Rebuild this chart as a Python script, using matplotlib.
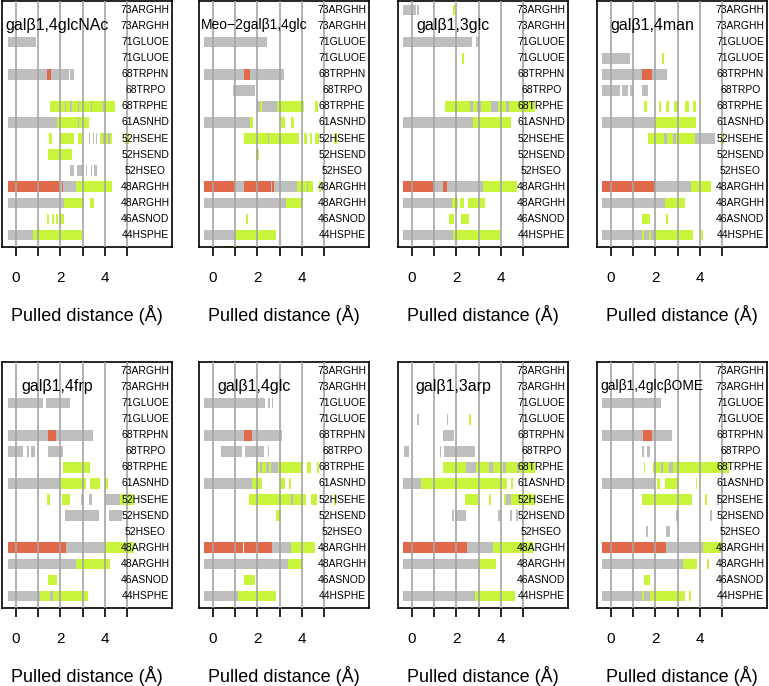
import matplotlib.pyplot as plt

plt.rcParams['font.family'] = ['Liberation Sans', 'DejaVu Sans']

# residue rows, top to bottom (last row is cut off by the frame)
rows = ["73ARGHH", "73ARGHH", "71GLUOE", "71GLUOE", "68TRPHN", "68TRPO",
        "68TRPHE", "61ASNHD", "52HSEHE", "52HSEND", "52HSEO", "48ARGHH",
        "48ARGHH", "46ASNOD", "44HSPHE", ""]

titles = ["galβ1,4glcNAc", "Meo\u22122galβ1,4glc", "galβ1,3glc", "galβ1,4man",
          "galβ1,4frp", "galβ1,4glc", "galβ1,3arp", "galβ1,4glcβOME"]

# segments: (row index from top, start, end, kind)  g=gray r=red y=yellow-green
seg_glcnac = [
    (2, -0.37, 0.9, 'g'),
    (4, -0.37, 2.37, 'g'), (4, 1.39, 1.57, 'r'), (4, 2.44, 2.62, 'g'),
    (6, 1.54, 4.43, 'y'), (6, 2.2, 2.27, 'g'), (6, 2.45, 2.5, 'g'), (6, 2.8, 2.84, 'g'),
    (6, 3.35, 3.4, 'g'), (6, 3.9, 3.95, 'g'),
    (7, -0.37, 1.84, 'g'), (7, 1.84, 3.27, 'y'), (7, 2.8, 2.84, 'g'),
    (8, 1.47, 1.62, 'y'), (8, 1.96, 2.59, 'y'), (8, 2.77, 2.97, 'y'), (8, 3.3, 3.34, 'g'),
    (8, 3.45, 3.49, 'g'), (8, 3.6, 3.64, 'g'), (8, 3.79, 4.31, 'y'), (8, 3.9, 3.95, 'g'),
    (8, 4.15, 4.2, 'g'), (8, 4.9, 5.06, 'y'),
    (9, 1.42, 2.52, 'y'),
    (10, 2.44, 2.6, 'g'), (10, 2.75, 3.0, 'g'), (10, 3.15, 3.2, 'g'), (10, 3.35, 3.4, 'g'),
    (10, 3.5, 3.64, 'g'),
    (11, -0.37, 1.99, 'r'), (11, 1.99, 2.71, 'g'), (11, 2.05, 2.1, 'r'), (11, 2.71, 4.31, 'y'),
    (12, -0.37, 2.14, 'g'), (12, 2.14, 3.04, 'y'), (12, 3.31, 3.49, 'y'),
    (13, 1.39, 1.5, 'y'), (13, 1.6, 1.7, 'y'), (13, 1.8, 1.9, 'y'), (13, 2.0, 2.14, 'y'),
    (14, -0.37, 0.79, 'g'), (14, 0.79, 2.97, 'y'),
    (15, -0.37, 0.22, 'y'),
]

seg_meo = [
    (2, -0.39, 2.41, 'g'),
    (4, -0.39, 3.19, 'g'), (4, 1.41, 1.65, 'r'),
    (5, 0.9, 1.88, 'g'),
    (6, 1.98, 2.89, 'g'), (6, 2.1, 2.2, 'y'), (6, 2.89, 4.09, 'y'), (6, 4.57, 4.72, 'y'),
    (7, -0.39, 1.68, 'g'), (7, 1.68, 1.8, 'y'), (7, 3.04, 3.23, 'y'), (7, 3.49, 3.64, 'y'),
    (8, 1.41, 3.86, 'y'), (8, 2.49, 2.54, 'g'), (8, 4.09, 4.2, 'y'), (8, 4.35, 4.45, 'y'),
    (8, 4.6, 4.77, 'y'), (8, 5.44, 5.56, 'y'),
    (9, 1.95, 2.08, 'y'),
    (11, -0.39, 0.98, 'r'), (11, 0.98, 1.41, 'g'), (11, 1.41, 2.74, 'r'), (11, 2.6, 2.64, 'g'),
    (11, 2.74, 3.79, 'g'), (11, 3.79, 4.47, 'y'), (11, 4.2, 4.25, 'g'), (11, 4.77, 4.84, 'y'),
    (12, -0.39, 3.26, 'g'), (12, 3.26, 4.02, 'y'),
    (13, 1.5, 1.59, 'y'),
    (14, -0.39, 1.0, 'g'), (14, 1.0, 2.81, 'y'),
    (15, 0.45, 1.16, 'y'),
]

seg_13glc = [
    (0, -0.39, 0.18, 'g'), (0, 0.21, 0.3, 'g'), (0, 1.86, 1.95, 'y'),
    (2, -0.39, 2.70, 'g'), (2, 2.88, 3.0, 'g'),
    (3, 2.25, 2.34, 'y'),
    (6, 1.5, 5.5, 'y'), (6, 2.6, 2.75, 'g'), (6, 2.9, 3.1, 'g'), (6, 3.55, 3.85, 'g'),
    (6, 4.2, 4.35, 'g'),
    (7, -0.39, 2.73, 'g'), (7, 2.73, 4.45, 'y'),
    (11, -0.39, 0.96, 'r'), (11, 0.96, 1.41, 'g'), (11, 1.41, 1.56, 'r'), (11, 1.56, 3.21, 'g'),
    (11, 3.21, 4.72, 'y'),
    (12, -0.39, 1.8, 'g'), (12, 1.8, 2.05, 'y'), (12, 2.15, 2.35, 'y'), (12, 2.5, 3.3, 'y'),
    (13, 1.65, 1.9, 'y'), (13, 2.2, 2.58, 'y'),
    (14, -0.39, 1.83, 'g'), (14, 1.83, 3.93, 'y'),
]

seg_man = [
    (3, -0.41, 0.86, 'g'), (3, 2.31, 2.38, 'y'),
    (4, -0.41, 2.54, 'g'), (4, 1.4, 1.86, 'r'),
    (5, -0.41, 0.41, 'g'), (5, 0.48, 0.75, 'g'), (5, 0.86, 0.98, 'g'), (5, 1.4, 1.66, 'g'),
    (6, 1.48, 1.63, 'y'), (6, 2.14, 2.26, 'y'), (6, 2.49, 2.6, 'y'), (6, 2.84, 3.02, 'y'),
    (6, 3.32, 3.5, 'y'), (6, 3.7, 3.8, 'y'),
    (7, -0.41, 1.93, 'g'), (7, 1.93, 3.82, 'y'),
    (8, 1.66, 3.77, 'y'), (8, 2.4, 2.5, 'g'), (8, 2.8, 2.9, 'g'), (8, 3.77, 4.68, 'g'),
    (8, 4.95, 5.07, 'y'),
    (11, -0.41, 2.0, 'r'), (11, 2.0, 3.59, 'g'), (11, 3.59, 4.5, 'y'),
    (12, -0.41, 2.42, 'g'), (12, 2.42, 3.32, 'y'),
    (13, 1.4, 1.74, 'y'), (13, 2.49, 2.57, 'y'),
    (14, -0.41, 1.96, 'g'), (14, 1.4, 1.5, 'y'), (14, 1.7, 1.8, 'y'), (14, 1.96, 3.7, 'y'),
    (14, 4.05, 4.11, 'y'),
    (15, -0.41, 0.18, 'y'),
]

seg_frp = [
    (2, -0.37, 1.24, 'g'), (2, 1.36, 2.44, 'g'),
    (4, -0.37, 3.46, 'g'), (4, 1.42, 1.81, 'r'),
    (5, -0.37, 0.31, 'g'), (5, 0.49, 0.6, 'g'), (5, 0.7, 0.87, 'g'), (5, 1.42, 2.11, 'g'),
    (6, 2.11, 3.34, 'y'),
    (7, -0.37, 1.96, 'g'), (7, 1.96, 3.16, 'y'), (7, 3.34, 3.79, 'y'), (7, 4.01, 4.12, 'y'),
    (8, 1.39, 1.54, 'y'), (8, 2.07, 2.44, 'y'), (8, 2.94, 3.0, 'g'), (8, 3.3, 3.42, 'g'),
    (8, 4.01, 4.69, 'g'), (8, 4.69, 5.29, 'y'),
    (9, 2.19, 3.75, 'g'), (9, 4.16, 4.76, 'g'),
    (11, -0.37, 2.25, 'r'), (11, 2.25, 3.94, 'g'), (11, 3.94, 5.29, 'y'),
    (12, -0.37, 2.71, 'g'), (12, 2.71, 4.24, 'y'),
    (13, 1.44, 1.84, 'y'),
    (14, -0.37, 1.09, 'g'), (14, 1.09, 3.22, 'y'), (14, 1.55, 1.67, 'g'),
    (15, -0.37, 0.34, 'y'),
]

seg_14glc = [
    (2, -0.39, 2.36, 'g'), (2, 2.47, 2.55, 'g'), (2, 2.63, 2.71, 'g'),
    (4, -0.39, 3.08, 'g'), (4, 1.41, 1.77, 'r'),
    (5, 0.36, 1.31, 'g'), (5, 1.43, 2.29, 'g'), (5, 2.48, 2.53, 'g'),
    (6, 1.95, 4.02, 'y'), (6, 2.1, 2.2, 'g'), (6, 2.4, 2.5, 'g'), (6, 2.6, 2.9, 'g'),
    (6, 4.24, 4.39, 'y'), (6, 4.69, 4.77, 'y'),
    (7, -0.39, 1.77, 'g'), (7, 1.77, 2.21, 'y'), (7, 3.0, 3.22, 'y'), (7, 3.41, 3.49, 'y'),
    (8, 1.61, 4.17, 'y'), (8, 3.5, 3.6, 'g'), (8, 4.39, 4.66, 'y'), (8, 5.41, 5.52, 'y'),
    (9, 2.83, 3.07, 'y'),
    (11, -0.39, 1.35, 'r'), (11, 1.41, 2.66, 'r'), (11, 2.66, 3.52, 'g'), (11, 3.52, 4.57, 'y'),
    (12, -0.39, 3.37, 'g'), (12, 3.37, 4.03, 'y'),
    (13, 1.41, 1.88, 'y'),
    (14, -0.39, 1.13, 'g'), (14, 1.13, 2.81, 'y'),
    (15, 0.33, 1.0, 'y'),
]

seg_arp = [
    (3, 0.25, 0.3, 'g'), (3, 1.57, 1.62, 'g'), (3, 2.58, 2.65, 'y'),
    (4, 0.93, 0.97, 'g'), (4, 1.41, 1.87, 'g'),
    (5, -0.34, -0.12, 'g'), (5, 1.26, 1.3, 'g'), (5, 1.42, 2.85, 'g'), (5, 2.98, 3.02, 'g'),
    (6, 1.41, 5.5, 'y'), (6, 2.43, 2.88, 'g'), (6, 3.48, 3.63, 'g'), (6, 4.07, 4.22, 'g'),
    (6, 4.7, 4.8, 'g'),
    (7, -0.39, 0.4, 'g'), (7, 0.4, 4.25, 'y'), (7, 4.45, 4.55, 'y'),
    (8, 2.4, 2.95, 'y'), (8, 3.45, 3.55, 'y'), (8, 4.15, 5.5, 'y'), (8, 4.22, 4.45, 'g'),
    (9, 1.8, 1.87, 'g'), (9, 1.95, 2.43, 'g'), (9, 3.85, 4.0, 'g'), (9, 4.4, 4.49, 'g'),
    (9, 4.67, 4.75, 'g'),
    (11, -0.39, 2.46, 'r'), (11, 2.46, 3.63, 'g'), (11, 3.63, 5.42, 'y'),
    (12, -0.39, 2.95, 'g'), (12, 2.95, 3.78, 'y'),
    (14, -0.39, 2.85, 'g'), (14, 2.85, 4.64, 'y'),
]

seg_ome = [
    (2, -0.41, 2.26, 'g'),
    (4, -0.41, 2.75, 'g'), (4, 1.43, 1.86, 'r'),
    (5, 1.39, 1.5, 'g'), (5, 1.6, 1.74, 'g'),
    (6, 1.48, 1.54, 'y'), (6, 1.89, 3.17, 'y'), (6, 2.25, 2.35, 'g'), (6, 2.6, 2.8, 'g'),
    (6, 3.17, 5.28, 'y'),
    (7, -0.41, 1.99, 'g'), (7, 2.08, 2.19, 'y'), (7, 2.42, 3.05, 'y'), (7, 3.8, 3.88, 'y'),
    (8, 1.39, 3.62, 'y'), (8, 4.23, 4.32, 'y'), (8, 4.75, 4.83, 'g'),
    (9, 2.91, 2.99, 'g'), (9, 4.45, 4.53, 'g'),
    (10, 1.58, 1.66, 'g'), (10, 2.49, 2.64, 'g'),
    (11, -0.41, 2.46, 'r'), (11, 2.46, 4.15, 'g'), (11, 4.15, 4.98, 'y'),
    (12, -0.41, 3.25, 'g'), (12, 3.25, 3.85, 'y'), (12, 4.3, 4.38, 'y'),
    (13, 1.48, 1.75, 'y'),
    (14, -0.41, 1.74, 'g'), (14, 1.4, 1.5, 'y'), (14, 1.74, 3.32, 'y'), (14, 3.52, 3.58, 'y'),
    (15, 0.38, 0.45, 'y'),
]

panels = [seg_glcnac, seg_meo, seg_13glc, seg_man, seg_frp, seg_14glc, seg_arp, seg_ome]
title_sizes = [11.5, 10, 11.5, 11.5, 11.5, 11.5, 11.5, 10]

colors = {'g': '#BEBEBE', 'r': '#E0694A', 'y': '#C8F53C'}

fig = plt.figure(figsize=(7.69, 6.86), dpi=100)
lefts = [2 / 769, 199 / 769, 398 / 769, 597 / 769]
bottoms = [1 - 247 / 686, 1 - 608 / 686]
w, h = 170 / 769, 246 / 686

n = len(rows)
for i, segs in enumerate(panels):
    ax = fig.add_axes([lefts[i % 4], bottoms[i // 4], w, h])
    ys = [n - 1 - s[0] for s in segs]
    ax.barh(ys, [s[2] - s[1] for s in segs], left=[s[1] for s in segs],
            height=0.66, color=[colors[s[3]] for s in segs], linewidth=0, zorder=2)
    for gx in range(6):
        ax.axvline(gx, color='#A4A4A4', lw=1.2, zorder=3)
    for k, lab in enumerate(rows):
        if lab:
            ax.text(5.8, n - 1 - k, lab, ha='center', va='center', fontsize=7.5, zorder=4)
    ax.text(1.85, n - 1.95, titles[i], ha='center', va='center',
            fontsize=title_sizes[i], zorder=4)
    ax.set_xlim(-0.62, 7.0)
    ax.set_ylim(0.25, 15.56)
    ax.set_yticks([])
    ax.set_xticks(range(6))
    ax.set_xticklabels(['0', '', '2', '', '4', ''], fontsize=11)
    ax.tick_params(axis='x', length=6.5, width=1.2, pad=11)
    ax.set_xlabel("Pulled distance (Å)", fontsize=13, labelpad=14)
    for sp in ax.spines.values():
        sp.set_linewidth(1.2)

fig.savefig("out.png", dpi=100)
